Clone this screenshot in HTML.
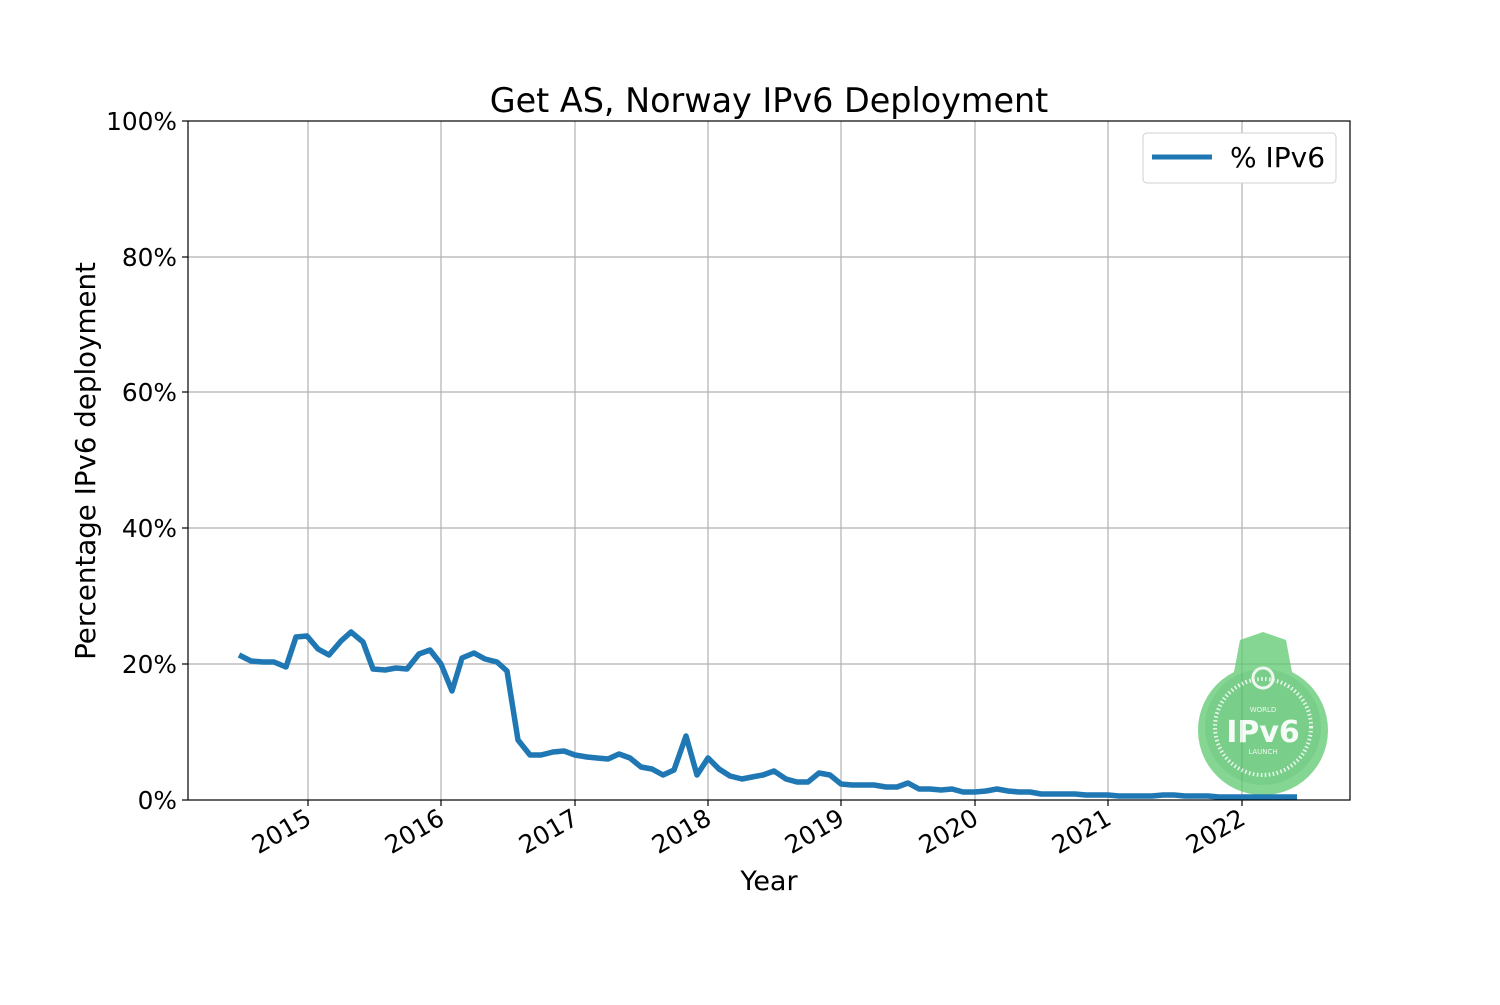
<!DOCTYPE html>
<html><head><style>
body{margin:0;background:#fff;}
svg text{font-family:"DejaVu Sans","Liberation Sans",sans-serif;fill:#000;}
</style></head><body>
<svg width="1500" height="1000" viewBox="0 0 1500 1000" xmlns="http://www.w3.org/2000/svg">
<rect width="1500" height="1000" fill="#fff"/>
<g stroke="#b0b0b0" stroke-width="1.2">
<line x1="308" y1="121" x2="308" y2="800"/><line x1="441" y1="121" x2="441" y2="800"/>
<line x1="575" y1="121" x2="575" y2="800"/><line x1="708" y1="121" x2="708" y2="800"/>
<line x1="841" y1="121" x2="841" y2="800"/><line x1="975" y1="121" x2="975" y2="800"/>
<line x1="1108" y1="121" x2="1108" y2="800"/><line x1="1242" y1="121" x2="1242" y2="800"/>
<line x1="188" y1="664" x2="1350" y2="664"/><line x1="188" y1="528" x2="1350" y2="528"/>
<line x1="188" y1="392" x2="1350" y2="392"/><line x1="188" y1="257" x2="1350" y2="257"/>
</g>
<g opacity="0.75">
<path d="M1240,640 L1263,632 L1286,640 L1292,672 A65,65 0 1 1 1234,672 Z" fill="#5ec970"/>
<circle cx="1263" cy="727" r="58" fill="#4dbf63"/>
<circle cx="1263" cy="727" r="48" fill="none" stroke="#e8f5ea" stroke-width="4" stroke-dasharray="1.5 2.5"/>
<circle cx="1263" cy="678" r="10" fill="none" stroke="#e8f5ea" stroke-width="3"/>
<text x="1263" y="742" font-size="30" font-weight="bold" text-anchor="middle" style="fill:#f2faf3">IPv6</text>
<text x="1263" y="712" font-size="7" text-anchor="middle" style="fill:#e8f5ea">WORLD</text>
<text x="1263" y="754" font-size="7" text-anchor="middle" style="fill:#e8f5ea">LAUNCH</text>
</g>
<polyline fill="none" stroke="#1f77b4" stroke-width="5.5" stroke-linejoin="round" points="239,655 251,661 263,662 274,662 286,667 296,637 307,636 318,649 329,655 341,641 351,632 363,642 373,669 385,670 396,668 407,669 419,654 430,650 441,664 452,691 462,658 474,653 485,659 497,662 507,671 518,740 530,755 541,755 553,752 564,751 575,755 587,757 597,758 608,759 619,754 630,758 641,767 652,769 663,775 674,770 686,736 697,775 708,758 719,769 730,776 742,779 752,777 763,775 774,771 786,779 797,782 808,782 819,773 830,775 841,784 852,785 863,785 874,785 886,787 897,787 908,783 919,789 930,789 941,790 952,789 963,792 975,792 986,791 997,789 1008,791 1019,792 1030,792 1041,794 1052,794 1064,794 1075,794 1086,795 1097,795 1108,795 1119,796 1130,796 1141,796 1152,796 1163,795 1174,795 1185,796 1197,796 1208,796 1219,797 1230,797 1241,797 1252,797 1263,797 1274,797 1285,797 1297,797"/>
<rect x="188" y="121" width="1162" height="679" fill="none" stroke="#000" stroke-width="1.2"/>
<g stroke="#000" stroke-width="1.2">
<line x1="308" y1="800" x2="308" y2="806"/><line x1="441" y1="800" x2="441" y2="806"/>
<line x1="575" y1="800" x2="575" y2="806"/><line x1="708" y1="800" x2="708" y2="806"/>
<line x1="841" y1="800" x2="841" y2="806"/><line x1="975" y1="800" x2="975" y2="806"/>
<line x1="1108" y1="800" x2="1108" y2="806"/><line x1="1242" y1="800" x2="1242" y2="806"/>
<line x1="182" y1="800" x2="188" y2="800"/><line x1="182" y1="664" x2="188" y2="664"/>
<line x1="182" y1="528" x2="188" y2="528"/><line x1="182" y1="392" x2="188" y2="392"/>
<line x1="182" y1="257" x2="188" y2="257"/><line x1="182" y1="121" x2="188" y2="121"/>
</g>
<g font-size="24.8" text-anchor="end">
<text x="177" y="809">0%</text><text x="177" y="673">20%</text><text x="177" y="537">40%</text>
<text x="177" y="401">60%</text><text x="177" y="266">80%</text><text x="177" y="130">100%</text>
</g>
<g font-size="24.8" text-anchor="end">
<text transform="translate(313,823) rotate(-30)">2015</text>
<text transform="translate(446,823) rotate(-30)">2016</text>
<text transform="translate(580,823) rotate(-30)">2017</text>
<text transform="translate(713,823) rotate(-30)">2018</text>
<text transform="translate(846,823) rotate(-30)">2019</text>
<text transform="translate(980,823) rotate(-30)">2020</text>
<text transform="translate(1113,823) rotate(-30)">2021</text>
<text transform="translate(1247,823) rotate(-30)">2022</text>
</g>
<text x="769" y="890" font-size="27" text-anchor="middle">Year</text>
<text transform="translate(95,461) rotate(-90)" font-size="27.7" text-anchor="middle">Percentage IPv6 deployment</text>
<text x="769" y="112" font-size="33.4" text-anchor="middle">Get AS, Norway IPv6 Deployment</text>
<rect x="1143" y="133" width="193" height="50" rx="4" fill="#fff" stroke="#d0d0d0"/>
<line x1="1152" y1="157" x2="1212" y2="157" stroke="#1f77b4" stroke-width="5"/>
<text x="1230" y="167" font-size="28">% IPv6</text>
</svg>
</body></html>
